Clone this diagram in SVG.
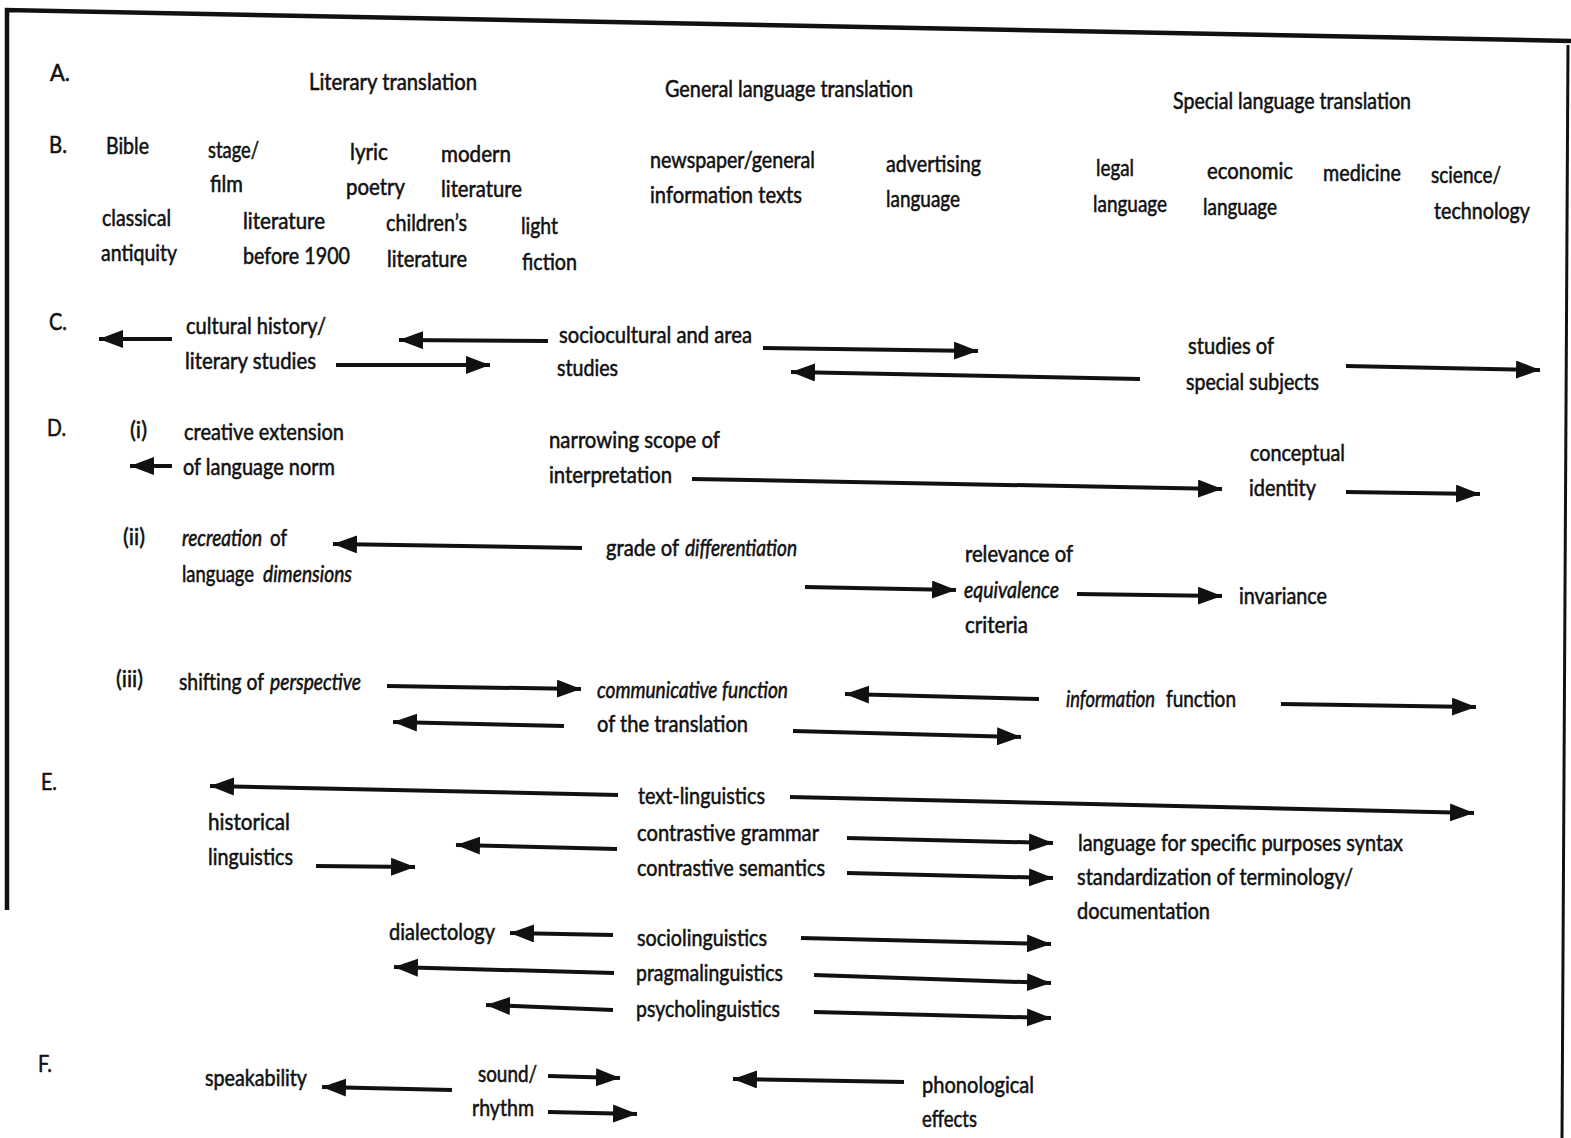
<svg xmlns="http://www.w3.org/2000/svg" width="1571" height="1138" viewBox="0 0 1571 1138">
  <style>
    text { font-family: Lato, "Open Sans", "Liberation Sans", sans-serif; font-size: 23px; fill: #111; stroke: #111; stroke-width: 0.55px; }
    .it { font-style: italic; }
    .conn line { stroke: #111; stroke-width: 4; }
    .frame { fill: none; stroke: #111; }
  </style>
  <defs>
    <marker id="head" markerUnits="userSpaceOnUse" markerWidth="26" markerHeight="20" refX="24" refY="9" orient="auto">
      <path d="M0,0 L24,9 L0,18 z" fill="#111"/>
    </marker>
  </defs>
  <rect width="1571" height="1138" fill="#fff"/>

  <!-- page frame -->
  <path class="frame" d="M7,910 L7,10 L1571,41" stroke-width="4.5"/>
  <path class="frame" d="M1568,45 L1562,1138" stroke-width="3"/>

  <!-- row labels -->
  <g id="label-A"><text x="50" y="81" textLength="20" lengthAdjust="spacingAndGlyphs">A.</text></g>
  <g id="label-B"><text x="49" y="153" textLength="18" lengthAdjust="spacingAndGlyphs">B.</text></g>
  <g id="label-C"><text x="49" y="330" textLength="18" lengthAdjust="spacingAndGlyphs">C.</text></g>
  <g id="label-D"><text x="47" y="436" textLength="19" lengthAdjust="spacingAndGlyphs">D.</text></g>
  <g id="label-E"><text x="41" y="790" textLength="16" lengthAdjust="spacingAndGlyphs">E.</text></g>
  <g id="label-F"><text x="38" y="1072" textLength="14" lengthAdjust="spacingAndGlyphs">F.</text></g>

  <!-- A: translation types -->
  <g id="literary-translation"><text x="309" y="90" textLength="168" lengthAdjust="spacingAndGlyphs">Literary translation</text></g>
  <g id="general-language-translation"><text x="665" y="97" textLength="248" lengthAdjust="spacingAndGlyphs">General language translation</text></g>
  <g id="special-language-translation"><text x="1173" y="109" textLength="238" lengthAdjust="spacingAndGlyphs">Special language translation</text></g>

  <!-- B: text types -->
  <g id="bible"><text x="106" y="154" textLength="43" lengthAdjust="spacingAndGlyphs">Bible</text></g>
  <g id="stage-film">
    <text x="208" y="158" textLength="51" lengthAdjust="spacingAndGlyphs">stage/</text>
    <text x="210" y="192" textLength="33" lengthAdjust="spacingAndGlyphs">film</text>
  </g>
  <g id="lyric-poetry">
    <text x="350" y="160" textLength="38" lengthAdjust="spacingAndGlyphs">lyric</text>
    <text x="346" y="195" textLength="59" lengthAdjust="spacingAndGlyphs">poetry</text>
  </g>
  <g id="modern-literature">
    <text x="441" y="162" textLength="70" lengthAdjust="spacingAndGlyphs">modern</text>
    <text x="441" y="197" textLength="81" lengthAdjust="spacingAndGlyphs">literature</text>
  </g>
  <g id="classical-antiquity">
    <text x="102" y="226" textLength="69" lengthAdjust="spacingAndGlyphs">classical</text>
    <text x="101" y="261" textLength="76" lengthAdjust="spacingAndGlyphs">antiquity</text>
  </g>
  <g id="literature-before-1900">
    <text x="243" y="229" textLength="82" lengthAdjust="spacingAndGlyphs">literature</text>
    <text x="243" y="264" textLength="107" lengthAdjust="spacingAndGlyphs">before 1900</text>
  </g>
  <g id="childrens-literature">
    <text x="386" y="231" textLength="81" lengthAdjust="spacingAndGlyphs">children’s</text>
    <text x="387" y="267" textLength="80" lengthAdjust="spacingAndGlyphs">literature</text>
  </g>
  <g id="light-fiction">
    <text x="521" y="234" textLength="37" lengthAdjust="spacingAndGlyphs">light</text>
    <text x="522" y="270" textLength="55" lengthAdjust="spacingAndGlyphs">fiction</text>
  </g>
  <g id="newspaper-texts">
    <text x="650" y="168" textLength="165" lengthAdjust="spacingAndGlyphs">newspaper/general</text>
    <text x="650" y="203" textLength="152" lengthAdjust="spacingAndGlyphs">information texts</text>
  </g>
  <g id="advertising-language">
    <text x="886" y="172" textLength="95" lengthAdjust="spacingAndGlyphs">advertising</text>
    <text x="886" y="207" textLength="74" lengthAdjust="spacingAndGlyphs">language</text>
  </g>
  <g id="legal-language">
    <text x="1096" y="176" textLength="38" lengthAdjust="spacingAndGlyphs">legal</text>
    <text x="1093" y="212" textLength="74" lengthAdjust="spacingAndGlyphs">language</text>
  </g>
  <g id="economic-language">
    <text x="1207" y="179" textLength="86" lengthAdjust="spacingAndGlyphs">economic</text>
    <text x="1203" y="215" textLength="74" lengthAdjust="spacingAndGlyphs">language</text>
  </g>
  <g id="medicine"><text x="1323" y="181" textLength="78" lengthAdjust="spacingAndGlyphs">medicine</text></g>
  <g id="science-technology">
    <text x="1431" y="183" textLength="70" lengthAdjust="spacingAndGlyphs">science/</text>
    <text x="1434" y="219" textLength="96" lengthAdjust="spacingAndGlyphs">technology</text>
  </g>

  <!-- C: non-linguistic disciplines -->
  <g id="cultural-history">
    <text x="186" y="334" textLength="140" lengthAdjust="spacingAndGlyphs">cultural history/</text>
    <text x="185" y="369" textLength="131" lengthAdjust="spacingAndGlyphs">literary studies</text>
  </g>
  <g id="sociocultural-studies">
    <text x="559" y="343" textLength="193" lengthAdjust="spacingAndGlyphs">sociocultural and area</text>
    <text x="557" y="376" textLength="61" lengthAdjust="spacingAndGlyphs">studies</text>
  </g>
  <g id="special-subjects">
    <text x="1188" y="354" textLength="86" lengthAdjust="spacingAndGlyphs">studies of</text>
    <text x="1186" y="390" textLength="133" lengthAdjust="spacingAndGlyphs">special subjects</text>
  </g>

  <!-- D: aspects of the translation process -->
  <g id="d-i"><text x="130" y="438" textLength="17" lengthAdjust="spacingAndGlyphs">(i)</text></g>
  <g id="creative-extension">
    <text x="184" y="440" textLength="160" lengthAdjust="spacingAndGlyphs">creative extension</text>
    <text x="183" y="475" textLength="152" lengthAdjust="spacingAndGlyphs">of language norm</text>
  </g>
  <g id="narrowing-scope">
    <text x="549" y="448" textLength="171" lengthAdjust="spacingAndGlyphs">narrowing scope of</text>
    <text x="549" y="483" textLength="123" lengthAdjust="spacingAndGlyphs">interpretation</text>
  </g>
  <g id="conceptual-identity">
    <text x="1250" y="461" textLength="95" lengthAdjust="spacingAndGlyphs">conceptual</text>
    <text x="1249" y="496" textLength="67" lengthAdjust="spacingAndGlyphs">identity</text>
  </g>
  <g id="d-ii"><text x="123" y="545" textLength="22" lengthAdjust="spacingAndGlyphs">(ii)</text></g>
  <g id="recreation">
    <text x="182" y="546" textLength="80" lengthAdjust="spacingAndGlyphs" class="it">recreation</text>
    <text x="270" y="546" textLength="17" lengthAdjust="spacingAndGlyphs">of</text>
    <text x="182" y="582" textLength="72" lengthAdjust="spacingAndGlyphs">language</text>
    <text x="263" y="582" textLength="89" lengthAdjust="spacingAndGlyphs" class="it">dimensions</text>
  </g>
  <g id="grade-of-differentiation">
    <text x="606" y="556" textLength="73" lengthAdjust="spacingAndGlyphs">grade of</text>
    <text x="685" y="556" textLength="112" lengthAdjust="spacingAndGlyphs" class="it">differentiation</text>
  </g>
  <g id="equivalence-criteria">
    <text x="965" y="562" textLength="108" lengthAdjust="spacingAndGlyphs">relevance of</text>
    <text x="964" y="598" textLength="95" lengthAdjust="spacingAndGlyphs" class="it">equivalence</text>
    <text x="965" y="633" textLength="63" lengthAdjust="spacingAndGlyphs">criteria</text>
  </g>
  <g id="invariance"><text x="1239" y="604" textLength="88" lengthAdjust="spacingAndGlyphs">invariance</text></g>
  <g id="d-iii"><text x="116" y="687" textLength="27" lengthAdjust="spacingAndGlyphs">(iii)</text></g>
  <g id="shifting-of-perspective">
    <text x="179" y="690" textLength="85" lengthAdjust="spacingAndGlyphs">shifting of</text>
    <text x="270" y="690" textLength="91" lengthAdjust="spacingAndGlyphs" class="it">perspective</text>
  </g>
  <g id="communicative-function">
    <text x="597" y="698" textLength="191" lengthAdjust="spacingAndGlyphs" class="it">communicative function</text>
    <text x="597" y="732" textLength="151" lengthAdjust="spacingAndGlyphs">of the translation</text>
  </g>
  <g id="information-function">
    <text x="1066" y="707" textLength="89" lengthAdjust="spacingAndGlyphs" class="it">information</text>
    <text x="1166" y="707" textLength="70" lengthAdjust="spacingAndGlyphs">function</text>
  </g>

  <!-- E: linguistic disciplines -->
  <g id="text-linguistics"><text x="638" y="804" textLength="127" lengthAdjust="spacingAndGlyphs">text-linguistics</text></g>
  <g id="historical-linguistics">
    <text x="208" y="830" textLength="82" lengthAdjust="spacingAndGlyphs">historical</text>
    <text x="208" y="865" textLength="85" lengthAdjust="spacingAndGlyphs">linguistics</text>
  </g>
  <g id="contrastive">
    <text x="637" y="841" textLength="182" lengthAdjust="spacingAndGlyphs">contrastive grammar</text>
    <text x="637" y="876" textLength="188" lengthAdjust="spacingAndGlyphs">contrastive semantics</text>
  </g>
  <g id="lsp">
    <text x="1078" y="851" textLength="325" lengthAdjust="spacingAndGlyphs">language for specific purposes syntax</text>
    <text x="1077" y="885" textLength="276" lengthAdjust="spacingAndGlyphs">standardization of terminology/</text>
    <text x="1077" y="919" textLength="133" lengthAdjust="spacingAndGlyphs">documentation</text>
  </g>
  <g id="dialectology"><text x="389" y="940" textLength="106" lengthAdjust="spacingAndGlyphs">dialectology</text></g>
  <g id="sociolinguistics"><text x="637" y="946" textLength="130" lengthAdjust="spacingAndGlyphs">sociolinguistics</text></g>
  <g id="pragmalinguistics"><text x="636" y="981" textLength="147" lengthAdjust="spacingAndGlyphs">pragmalinguistics</text></g>
  <g id="psycholinguistics"><text x="636" y="1017" textLength="144" lengthAdjust="spacingAndGlyphs">psycholinguistics</text></g>

  <!-- F: phonetic aspects -->
  <g id="speakability"><text x="205" y="1086" textLength="102" lengthAdjust="spacingAndGlyphs">speakability</text></g>
  <g id="sound-rhythm">
    <text x="478" y="1082" textLength="59" lengthAdjust="spacingAndGlyphs">sound/</text>
    <text x="472" y="1116" textLength="62" lengthAdjust="spacingAndGlyphs">rhythm</text>
  </g>
  <g id="phonological-effects">
    <text x="922" y="1093" textLength="112" lengthAdjust="spacingAndGlyphs">phonological</text>
    <text x="922" y="1127" textLength="55" lengthAdjust="spacingAndGlyphs">effects</text>
  </g>

  <!-- connectors -->
  <g id="connectors" class="conn">
    <line x1="172" y1="339" x2="99" y2="339" marker-end="url(#head)"/>
    <line x1="548" y1="341" x2="399" y2="340" marker-end="url(#head)"/>
    <line x1="336" y1="365" x2="490" y2="365" marker-end="url(#head)"/>
    <line x1="763" y1="348" x2="978" y2="351" marker-end="url(#head)"/>
    <line x1="1140" y1="379" x2="791" y2="372" marker-end="url(#head)"/>
    <line x1="1346" y1="366" x2="1540" y2="370" marker-end="url(#head)"/>

    <line x1="172" y1="466" x2="130" y2="466" marker-end="url(#head)"/>
    <line x1="692" y1="479" x2="1222" y2="489" marker-end="url(#head)"/>
    <line x1="1346" y1="492" x2="1480" y2="494" marker-end="url(#head)"/>
    <line x1="582" y1="548" x2="333" y2="544" marker-end="url(#head)"/>
    <line x1="805" y1="587" x2="956" y2="590" marker-end="url(#head)"/>
    <line x1="1077" y1="594" x2="1222" y2="596" marker-end="url(#head)"/>
    <line x1="387" y1="686" x2="581" y2="689" marker-end="url(#head)"/>
    <line x1="564" y1="726" x2="393" y2="722" marker-end="url(#head)"/>
    <line x1="1039" y1="699" x2="845" y2="694" marker-end="url(#head)"/>
    <line x1="793" y1="731" x2="1021" y2="737" marker-end="url(#head)"/>
    <line x1="1281" y1="704" x2="1476" y2="707" marker-end="url(#head)"/>

    <line x1="618" y1="795" x2="210" y2="786" marker-end="url(#head)"/>
    <line x1="790" y1="797" x2="1474" y2="813" marker-end="url(#head)"/>
    <line x1="316" y1="866" x2="415" y2="867" marker-end="url(#head)"/>
    <line x1="617" y1="849" x2="456" y2="845" marker-end="url(#head)"/>
    <line x1="847" y1="838" x2="1053" y2="843" marker-end="url(#head)"/>
    <line x1="847" y1="873" x2="1053" y2="878" marker-end="url(#head)"/>
    <line x1="613" y1="935" x2="510" y2="933" marker-end="url(#head)"/>
    <line x1="801" y1="938" x2="1051" y2="944" marker-end="url(#head)"/>
    <line x1="614" y1="973" x2="394" y2="967" marker-end="url(#head)"/>
    <line x1="814" y1="975" x2="1051" y2="983" marker-end="url(#head)"/>
    <line x1="613" y1="1010" x2="486" y2="1005" marker-end="url(#head)"/>
    <line x1="814" y1="1012" x2="1051" y2="1018" marker-end="url(#head)"/>

    <line x1="452" y1="1090" x2="322" y2="1087" marker-end="url(#head)"/>
    <line x1="548" y1="1076" x2="620" y2="1078" marker-end="url(#head)"/>
    <line x1="548" y1="1112" x2="637" y2="1114" marker-end="url(#head)"/>
    <line x1="904" y1="1082" x2="733" y2="1079" marker-end="url(#head)"/>
  </g>
</svg>
